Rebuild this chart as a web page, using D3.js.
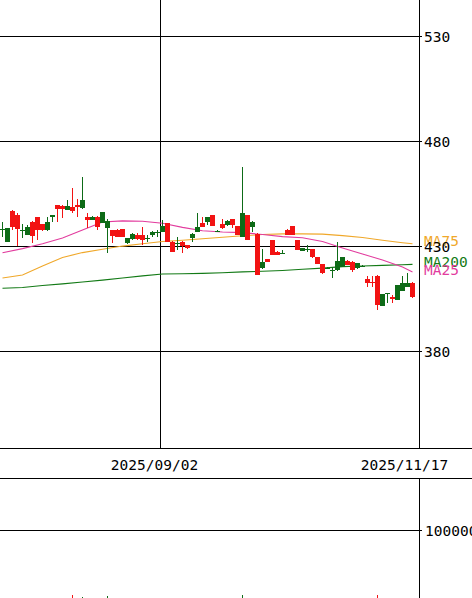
<!DOCTYPE html>
<html>
<head>
<meta charset="utf-8">
<script src="https://cdn.jsdelivr.net/npm/d3@7"></script>
<style>
  html, body { margin: 0; padding: 0; background: #fff; }
  svg { display: block; }
</style>
</head>
<body>
<svg width="472" height="598"></svg>
<script>
var svg = d3.select('svg')

// daily prices, oldest first (index 32 = 2025/09/02, index 82 = 2025/11/17)
var open  = [438.5,438.7,439.1,438.3,438.0,439.4,435.1,437.9,437.9,441.8,445.0,447.7,447.7,449.4,446.9,448.8,452.1,442.6,444.2,439.4,
             446.4,442.1,435.2,434.7,434.7,433.9,435.8,433.4,433.1,434.0,437.0,437.0,439.8,432.3,427.5,431.6,430.2,429.1,435.8,439.4,
             439.4,443.9,439.8,437.5,438.7,442.3,440.2,435.5,446.1,433.1,441.8,416.4,422.8,422.8,426.0,426.0,427.1,435.5,435.5,428.3,
             429.1,428.7,424.9,421.7,417.5,419.9,418.6,423.2,424.9,421.2,418.8,422.0,420.8,412.5,412.6,402.1,407.4,407.8,405.0,411.7,
             412.5,412.8,405.8]
var high  = [441.8,439.0,447.4,446.0,440.7,440.2,442.0,444.2,440.8,444.2,445.2,450.0,449.6,452.1,457.7,452.6,463.2,445.8,444.4,444.4,
             446.6,443.0,438.0,438.1,438.5,434.1,436.6,436.3,439.4,435.5,437.2,437.9,442.6,441.2,432.5,434.7,432.5,430.9,436.3,445.8,
             443.9,444.1,445.2,438.0,443.0,442.5,443.2,440.0,468.0,445.2,442.0,436.2,428.7,424.2,433.3,427.7,428.3,438.1,440.0,433.3,
             429.3,430.7,428.9,425.1,421.9,420.2,420.1,432.3,425.1,423.4,423.0,422.2,421.0,416.0,416.0,416.2,407.6,408.0,406.9,411.9,
             416.0,417.2,413.0]
var low   = [434.5,432.0,437.9,430.2,434.0,435.3,431.5,433.1,437.6,437.6,441.8,441.8,443.7,447.2,445.8,444.0,448.0,438.7,442.4,437.9,
             441.0,426.9,431.5,434.5,434.5,431.3,433.2,433.2,430.7,432.3,434.7,434.7,436.8,432.0,427.3,428.3,426.8,428.9,432.3,436.8,
             439.2,440.2,439.6,437.0,438.5,440.0,438.7,435.3,434.4,432.9,437.0,416.2,419.4,422.6,425.8,425.8,426.4,435.3,435.3,428.1,
             427.7,427.5,424.7,421.5,416.9,419.5,414.9,418.5,420.2,421.0,418.0,419.4,420.4,410.9,410.9,399.8,401.5,403.0,403.0,404.3,
             408.8,410.7,405.6]
var close = [438.3,432.3,446.9,445.0,437.8,435.5,441.8,443.9,440.6,437.9,444.2,449.8,449.4,447.4,449.0,449.8,448.3,444.2,442.6,444.2,
             441.2,438.7,437.9,437.9,438.3,431.5,433.4,435.5,435.5,433.8,435.5,436.3,437.0,441.0,432.3,431.4,432.3,430.7,433.9,437.0,
             441.0,441.8,445.0,437.3,440.6,440.2,443.0,439.8,434.7,445.0,439.4,436.0,419.6,424.0,433.1,427.5,427.0,437.9,439.8,433.1,
             427.9,428.5,428.7,424.9,421.7,419.8,418.4,418.8,420.4,423.2,422.8,419.6,420.6,414.4,413.3,416.0,401.7,407.6,406.0,404.5,
             409.0,410.9,412.8]
var volume = [21000,26000,30000,28000,15000,18000,24000,27000,12000,17000,14000,29000,22000,19000,38000,25000,36500,23000,13000,20000,
              24000,37500,21000,16000,14000,18000,12000,11000,19000,9000,13000,10000,17000,31000,28000,15000,20000,12000,16000,22000,
              14000,13000,21000,8000,12000,11000,15000,18000,38500,33000,16000,32000,26000,14000,23000,13000,9000,19000,20000,17000,
              11000,9000,14000,16000,22000,8000,12000,27000,15000,11000,14000,12000,8000,18000,13000,38500,24000,12000,10000,21000,
              17000,15000,23000]

// moving averages
var maIndex = [0,4,8,12,16,20,24,28,32,36,40,44,48,52,56,60,64,68,72,76,80,82]
var ma25  = [427.0,429.0,431.3,434.0,437.9,441.7,442.2,442.0,441.1,439.1,437.5,436.9,436.6,435.7,434.7,434.2,432.4,429.3,426.4,423.6,420.2,417.9]
var ma75  = [415.0,416.4,420.7,424.8,427.1,428.7,430.2,431.3,432.4,433.0,433.7,434.4,435.1,435.7,436.0,436.0,435.9,435.2,434.3,433.0,431.8,431.3]
var ma200 = [410.1,410.5,411.4,412.2,413.1,414.0,415.0,416.0,416.9,417.0,417.2,417.5,417.9,418.2,418.6,419.2,419.7,420.4,420.7,421.0,421.3,421.5]

var priceTicks = [380, 430, 480, 530]
var volumeTicks = [100000]
var dateIndex = [32, 82]
var dateLabels = ['2025/09/02', '2025/11/17']

var upColor = '#f21313'
var downColor = '#0d6b17'
var maColors = {ma25: '#e23c9e', ma75: '#f0a82a', ma200: '#137a16'}
var font = 'DejaVu Sans Mono'
var fontSize = '14.5px'

var plotRight = 419.5
var priceBottom = 448.5
var bandBottom = 478.5

var x = d3.scaleLinear().domain([0, 83]).range([0, 415])
var y = d3.scaleLinear().domain([380, 530]).range([351.5, 36.5])
var yv = d3.scaleLinear().domain([0, 100000]).range([635, 530.5])

var grid = svg.append('g').attr('shape-rendering', 'crispEdges').attr('stroke', '#000').attr('stroke-width', 1)

// price gridlines
grid.selectAll('line.price')
	.data(priceTicks)
	.enter()
	.append('line')
	.attr('x1', 0).attr('x2', plotRight + 2)
	.attr('y1', function(d) { return y(d) })
	.attr('y2', function(d) { return y(d) })

// date line + right edges
grid.append('line')
	.attr('x1', x(dateIndex[0]) + 0.5).attr('x2', x(dateIndex[0]) + 0.5)
	.attr('y1', 0).attr('y2', priceBottom)
grid.append('line').attr('x1', plotRight).attr('x2', plotRight).attr('y1', 0).attr('y2', priceBottom)
grid.append('line').attr('x1', plotRight).attr('x2', plotRight).attr('y1', bandBottom).attr('y2', 598)
grid.append('line').attr('x1', 0).attr('x2', 472).attr('y1', priceBottom).attr('y2', priceBottom)
grid.append('line').attr('x1', 0).attr('x2', 472).attr('y1', bandBottom).attr('y2', bandBottom)

// volume gridline
grid.selectAll('line.vol')
	.data(volumeTicks)
	.enter()
	.append('line')
	.attr('x1', 0).attr('x2', plotRight + 2)
	.attr('y1', function(d) { return yv(d) })
	.attr('y2', function(d) { return yv(d) })

svg.append('clipPath').attr('id', 'priceClip')
	.append('rect').attr('x', 0).attr('y', 0).attr('width', plotRight).attr('height', priceBottom)
svg.append('clipPath').attr('id', 'volClip')
	.append('rect').attr('x', 0).attr('y', bandBottom + 0.5).attr('width', plotRight).attr('height', 200)

var candles = d3.range(open.length)
function colorOf(i) { return close[i] > open[i] ? upColor : downColor }

// moving average lines
var line = d3.line()
	.x(function(d) { return x(d[0]) + 2.5 })
	.y(function(d) { return y(d[1]) })
var maLayer = svg.append('g').attr('clip-path', 'url(#priceClip)')
var maSeries = [['ma200', ma200], ['ma75', ma75], ['ma25', ma25]]
maSeries.forEach(function(s) {
	maLayer.append('path')
		.attr('d', line(maIndex.map(function(idx, k) { return [idx, s[1][k]] })))
		.attr('fill', 'none')
		.attr('stroke', maColors[s[0]])
		.attr('stroke-width', 1.1)
})

// candles
var candleLayer = svg.append('g').attr('clip-path', 'url(#priceClip)').attr('shape-rendering', 'crispEdges')
candleLayer.selectAll('rect.wick')
	.data(candles)
	.enter()
	.append('rect')
	.attr('x', function(i) { return x(i) + 2 })
	.attr('width', 1)
	.attr('y', function(i) { return y(high[i]) })
	.attr('height', function(i) { return Math.max(1, y(low[i]) - y(high[i])) })
	.attr('fill', colorOf)
candleLayer.selectAll('rect.body')
	.data(candles)
	.enter()
	.append('rect')
	.attr('x', function(i) { return x(i) })
	.attr('width', 5)
	.attr('y', function(i) { return y(Math.max(open[i], close[i])) })
	.attr('height', function(i) { return Math.max(1, Math.abs(y(open[i]) - y(close[i]))) })
	.attr('fill', colorOf)

// volume
svg.append('g').attr('clip-path', 'url(#volClip)').attr('shape-rendering', 'crispEdges')
	.selectAll('rect')
	.data(candles)
	.enter()
	.append('rect')
	.attr('x', function(i) { return x(i) + 2 })
	.attr('width', 1)
	.attr('y', function(i) { return yv(volume[i]) })
	.attr('height', function(i) { return yv(0) - yv(volume[i]) })
	.attr('fill', colorOf)

// legend at the right end of each average
var legend = [['MA75', 'ma75', ma75], ['MA200', 'ma200', ma200], ['MA25', 'ma25', ma25]]
svg.selectAll('text.legend')
	.data(legend)
	.enter()
	.append('text')
	.attr('x', 424)
	.attr('y', function(d) { return y(d[2][d[2].length - 1]) + 2.6 })
	.attr('fill', function(d) { return maColors[d[1]] })
	.attr('font-family', font)
	.attr('font-size', fontSize)
	.text(function(d) { return d[0] })

// axis labels
svg.selectAll('text.price')
	.data(priceTicks)
	.enter()
	.append('text')
	.attr('x', 424)
	.attr('y', function(d) { return y(d) + 5.8 })
	.attr('font-family', font)
	.attr('font-size', fontSize)
	.text(function(d) { return d })

svg.selectAll('text.vol')
	.data(volumeTicks)
	.enter()
	.append('text')
	.attr('x', 425)
	.attr('y', function(d) { return yv(d) + 5.8 })
	.attr('font-family', font)
	.attr('font-size', fontSize)
	.text(function(d) { return d })

svg.selectAll('text.date')
	.data(dateIndex)
	.enter()
	.append('text')
	.attr('x', function(d) { return x(d) + 2.5 - 8 })
	.attr('y', 470)
	.attr('text-anchor', 'middle')
	.attr('font-family', font)
	.attr('font-size', fontSize)
	.text(function(d, k) { return dateLabels[k] })
</script>
</body>
</html>
